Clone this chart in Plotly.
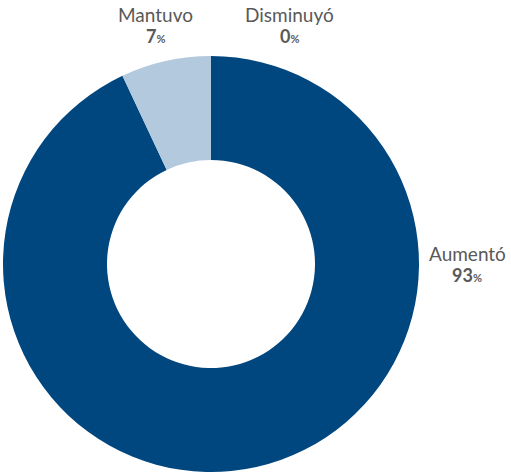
import plotly.graph_objects as go

categories = ["Aumentó", "Mantuvo", "Disminuyó"]
values = [93, 7, 0]
colors = ["#00467F", "#B3C9DD", "#7F9FBF"]

W, H = 511, 472
cx, cy, r = 211, 264, 208

fig = go.Figure(go.Pie(
    labels=categories,
    values=values,
    hole=0.5,
    sort=False,
    direction="clockwise",
    rotation=0,
    marker=dict(colors=colors, line=dict(width=0)),
    textinfo="none",
    hoverinfo="label+percent",
    showlegend=False,
    domain=dict(x=[(cx - r) / W, (cx + r) / W], y=[(H - cy - r) / H, (H - cy + r) / H]),
))

FONT = "Lato, Carlito, Calibri, sans-serif"
# (x center, label y, value y) in pixels from the top-left
label_pos = {"Aumentó": (467, 253, 275), "Mantuvo": (155, 14, 36), "Disminuyó": (289, 14, 36)}

annotations = []
for name, val in zip(categories, values):
    x, y1, y2 = label_pos[name]
    annotations.append(dict(
        x=x / W, y=1 - y1 / H, xref="paper", yref="paper",
        text=name, showarrow=False, xanchor="center", yanchor="middle",
        font=dict(family=FONT, size=19, color="#595959"),
    ))
    annotations.append(dict(
        x=x / W, y=1 - y2 / H, xref="paper", yref="paper",
        text=f"<b>{val}</b><b><span style='font-size:11px'>%</span></b>",
        showarrow=False, xanchor="center", yanchor="middle",
        font=dict(family=FONT, size=18, color="#595959"),
    ))

fig.update_layout(
    width=W, height=H,
    margin=dict(l=0, r=0, t=0, b=0),
    paper_bgcolor="white", plot_bgcolor="white",
    annotations=annotations,
)

fig.write_html("out.html")
